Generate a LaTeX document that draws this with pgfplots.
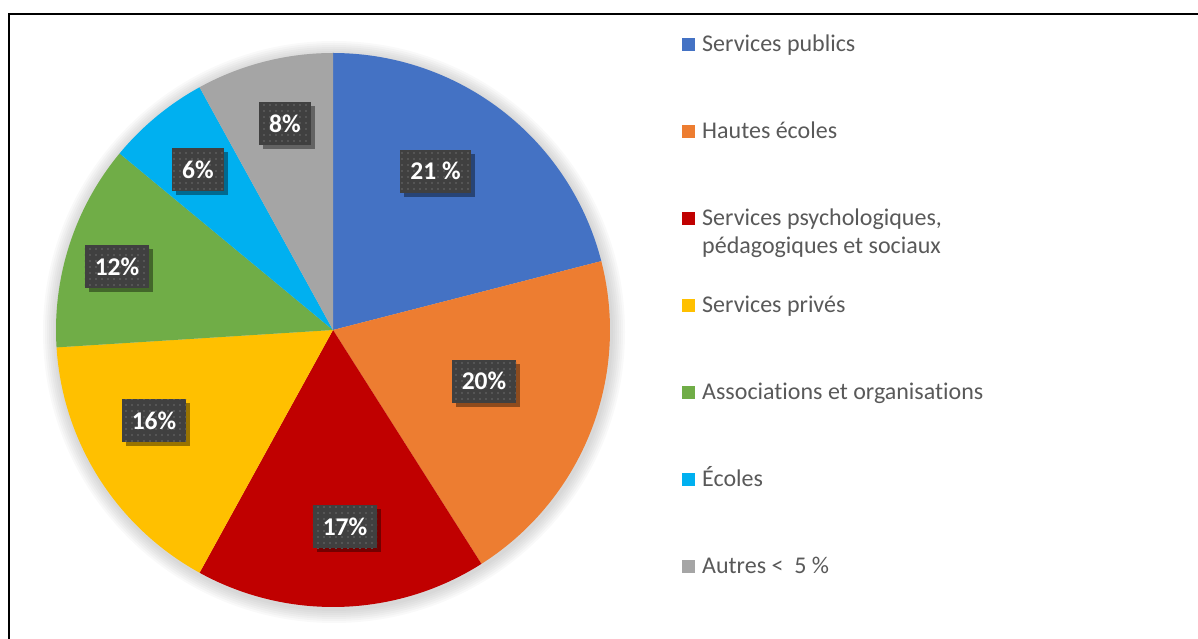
\documentclass[border=0pt]{standalone}
\usepackage{pgfplots}
\pgfplotsset{compat=1.18}
\usepackage{fontspec}
\setmainfont[Ligatures={NoCommon}]{Carlito}
\usetikzlibrary{shadows,patterns.meta}
\definecolor{cBlue}{HTML}{4472C4}
\definecolor{cOrange}{HTML}{ED7D31}
\definecolor{cRed}{HTML}{C00000}
\definecolor{cYellow}{HTML}{FFC000}
\definecolor{cGreen}{HTML}{70AD47}
\definecolor{cLBlue}{HTML}{00B0F0}
\definecolor{cGray}{HTML}{A5A5A5}
\definecolor{txt}{HTML}{595959}
\definecolor{lbl}{HTML}{404040}
\definecolor{dotc}{HTML}{555555}
\tikzdeclarepattern{name=bigdots, type=uncolored,
  bounding box={(-3pt,-3pt) and (3pt,3pt)}, tile size={(6pt,6pt)},
  code={\fill (-0.9pt,-0.9pt) rectangle (0.9pt,0.9pt);}}
\tikzset{lblbox/.style={fill=lbl, text=white, font=\bfseries\fontsize{25.5}{30}\selectfont,
  inner xsep=10pt, inner ysep=13pt, text height=16.5pt, text depth=0pt, minimum height=43pt,
  drop shadow={shadow xshift=4pt, shadow yshift=-4pt, opacity=0.4, fill=black},
  postaction={pattern={bigdots}, pattern color=dotc}}}
\begin{document}
\begin{tikzpicture}
\begin{axis}[
  width=1198pt, height=639pt, scale only axis,
  xmin=0, xmax=1198, ymin=0, ymax=639,
  hide axis, clip=false,
  legend style={at={(axis cs:682,605)}, anchor=north west, draw=none, fill=none,
    inner sep=0pt, row sep=64pt, column sep=7pt,
    font=\fontsize{24}{28.5}\selectfont, text=txt,
    nodes={inner sep=0pt, text height=17pt, text depth=6pt}},
  legend cell align=left,
  legend image code/.code={\fill[#1] (0pt,-5.5pt) rectangle (13pt,7.5pt);},
]
% soft shadow around the pie
\pgfplotsinvokeforeach{14,12,10,8,6,4,2}{
  \fill[black, opacity=0.025] (axis cs:334,307) circle[radius=277pt+#1pt];
}
\addplot[fill=cBlue, draw=none, domain=0:21, samples=60, variable=\t]
  ({333+277*sin(3.6*\t)},{309+277*cos(3.6*\t)}) -- (axis cs:333,309) -- cycle;
\addlegendentry{Services publics}
\addplot[fill=cOrange, draw=none, domain=21:41, samples=60, variable=\t]
  ({333+277*sin(3.6*\t)},{309+277*cos(3.6*\t)}) -- (axis cs:333,309) -- cycle;
\addlegendentry{Hautes écoles}
\addplot[fill=cRed, draw=none, domain=41:58, samples=60, variable=\t]
  ({333+277*sin(3.6*\t)},{309+277*cos(3.6*\t)}) -- (axis cs:333,309) -- cycle;
\addlegendentry{\smash{\parbox[t]{300pt}{Services psychologiques,\\pédagogiques et sociaux}}}
\addplot[fill=cYellow, draw=none, domain=58:74, samples=60, variable=\t]
  ({333+277*sin(3.6*\t)},{309+277*cos(3.6*\t)}) -- (axis cs:333,309) -- cycle;
\addlegendentry{Services privés}
\addplot[fill=cGreen, draw=none, domain=74:86, samples=60, variable=\t]
  ({333+277*sin(3.6*\t)},{309+277*cos(3.6*\t)}) -- (axis cs:333,309) -- cycle;
\addlegendentry{Associations et organisations}
\addplot[fill=cLBlue, draw=none, domain=86:92, samples=60, variable=\t]
  ({333+277*sin(3.6*\t)},{309+277*cos(3.6*\t)}) -- (axis cs:333,309) -- cycle;
\addlegendentry{Écoles}
\addplot[fill=cGray, draw=none, domain=92:100, samples=60, variable=\t]
  ({333+277*sin(3.6*\t)},{309+277*cos(3.6*\t)}) -- (axis cs:333,309) -- cycle;
\addlegendentry{Autres <\ \ 5 \%}
% data labels
\node[lblbox] at (axis cs:435.5,467.5) {21 \%};
\node[lblbox] at (axis cs:484,257.5) {20\%};
\node[lblbox] at (axis cs:345,112) {17\%};
\node[lblbox] at (axis cs:154,218) {16\%};
\node[lblbox] at (axis cs:117,372) {12\%};
\node[lblbox] at (axis cs:198,469) {6\%};
\node[lblbox] at (axis cs:285,515) {8\%};
% frame
\draw[line width=2pt] (axis cs:9,-5) -- (axis cs:9,625) -- (axis cs:1205,625);
\end{axis}
\pgfresetboundingbox
\path (0,0) rectangle (1198pt,639pt);
\end{tikzpicture}
\end{document}
